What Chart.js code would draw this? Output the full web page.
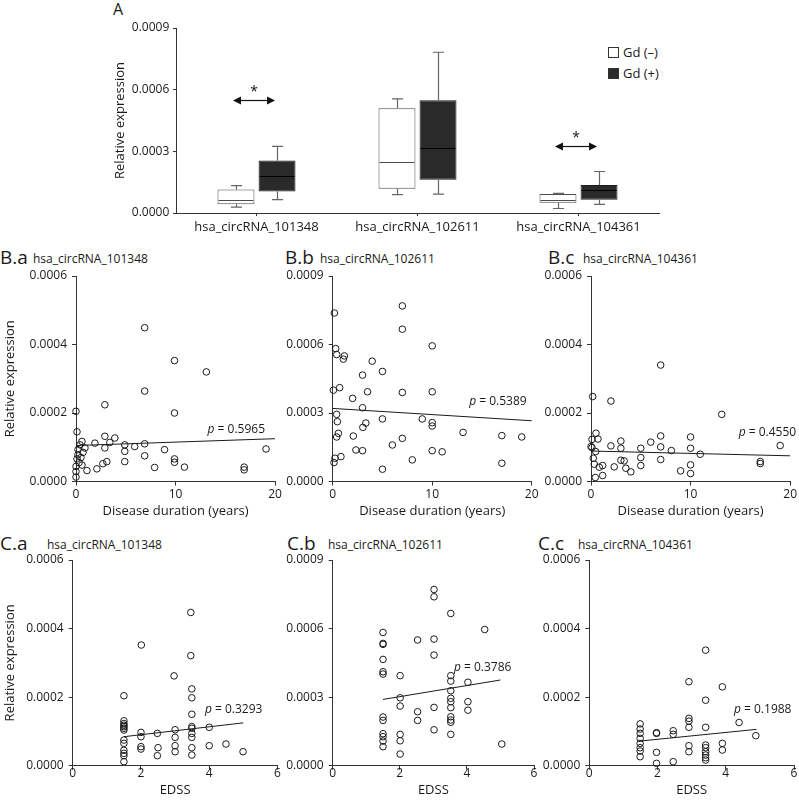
<!DOCTYPE html>
<html>
<head>
<meta charset="utf-8">
<script src="https://cdn.jsdelivr.net/npm/chart.js@4.4.1/dist/chart.umd.min.js"></script>
<style>
  body { margin: 0; background: #fff; }
  #fig { position: relative; width: 799px; height: 800px; overflow: hidden; font-family: 'Open Sans', sans-serif; color: #1a1a1a; }
  #fig canvas { position: absolute; }
  .lbl { position: absolute; white-space: nowrap; line-height: 20px; }
  .big { font-size: 19px; }
  .small { font-size: 12px; }
  .key { position: absolute; width: 9px; height: 9px; border: 1px solid #333; }
</style>
</head>
<body>
<div id="fig">
  <div class="lbl" style="left:113px;top:-1px;font-size:16px;">A</div>
  <div class="key" style="left:608px;top:47px;background:#fff;"></div>
  <div class="lbl" style="left:623px;top:42px;font-size:13px;">Gd (–)</div>
  <div class="key" style="left:608px;top:68px;background:#2a2a2a;"></div>
  <div class="lbl" style="left:623px;top:63px;font-size:13px;">Gd (+)</div>

  <div class="lbl big" style="left:0px;top:247px;">B.a</div>
  <div class="lbl small" style="left:33px;top:249px;">hsa_circRNA_101348</div>
  <div class="lbl big" style="left:285px;top:247px;">B.b</div>
  <div class="lbl small" style="left:320px;top:249px;">hsa_circRNA_102611</div>
  <div class="lbl big" style="left:548px;top:247px;">B.c</div>
  <div class="lbl small" style="left:583px;top:249px;">hsa_circRNA_104361</div>

  <div class="lbl big" style="left:0px;top:533px;">C.a</div>
  <div class="lbl small" style="left:47px;top:535px;">hsa_circRNA_101348</div>
  <div class="lbl big" style="left:287px;top:533px;">C.b</div>
  <div class="lbl small" style="left:328px;top:535px;">hsa_circRNA_102611</div>
  <div class="lbl big" style="left:538px;top:533px;">C.c</div>
  <div class="lbl small" style="left:578px;top:535px;">hsa_circRNA_104361</div>
</div>
<script>
'use strict';

// ---- panel A: box plot values ----
const genes = ['hsa_circRNA_101348', 'hsa_circRNA_102611', 'hsa_circRNA_104361'];
const negMin = [0.000029, 0.000089, 0.000022];
const negQ1  = [0.000042, 0.000118, 0.000050];
const negMed = [0.000062, 0.000250, 0.000065];
const negQ3  = [0.000114, 0.000509, 0.000092];
const negMax = [0.000133, 0.000555, 0.000095];
const posMin = [0.000065, 0.000092, 0.000042];
const posQ1  = [0.000104, 0.000162, 0.000065];
const posMed = [0.000178, 0.000316, 0.000113];
const posQ3  = [0.000256, 0.000548, 0.000136];
const posMax = [0.000324, 0.000782, 0.000202];
const sigIdx = [0, 2];
const sigLevel = [0.00055, 0.000327];

// ---- panel B: disease duration vs expression ----
const ba_x = [0, 0.1, 0.6, 0.4, 0.2, 0.7, 0.2, 0.1, 0.3, 0.5, 0.6, 0, 0, 0, 0.9, 1.1, 1.9, 2.1, 2.7, 2.9, 2.9, 2.9, 3.1, 3.4, 3.9, 4.9, 4.9, 4.9, 5.9, 6.9, 6.9, 6.9, 6.9, 7.9, 8.9, 9.9, 9.9, 9.9, 9.9, 10.9, 13.1, 16.9, 16.9, 19.1];
const ba_y = [0.000205, 0.000145, 0.000117, 0.000107, 0.000093, 0.000085, 0.000078, 0.000066, 0.000055, 0.00007, 0.000048, 0.000044, 0.000029, 0.000013, 0.000098, 0.000032, 0.000112, 0.000037, 0.000052, 0.000132, 0.000098, 0.000224, 0.000058, 0.000114, 0.000127, 0.000107, 0.000088, 0.000058, 0.000102, 0.00011, 0.000075, 0.000264, 0.000449, 0.000041, 0.000093, 0.000353, 0.0002, 0.000066, 0.000056, 0.000042, 0.00032, 0.000042, 0.000034, 0.000095];
const bb_x = [0.17, 7, 7, 10, 0.3, 0.4, 1.17, 1.07, 3.97, 5, 3, 0.07, 0.7, 3.5, 7, 10, 2, 3, 0.4, 0.47, 3.33, 3.03, 5, 9, 10, 10, 0.57, 0.4, 2.07, 7, 13.1, 17, 19, 6, 2.33, 3, 10, 11, 0.83, 0.23, 0.13, 8, 17, 5];
const bb_y = [0.000738, 0.000769, 0.000667, 0.000594, 0.000582, 0.000556, 0.00055, 0.000536, 0.000527, 0.000482, 0.000466, 0.0004, 0.000411, 0.000393, 0.00039, 0.000393, 0.000364, 0.000323, 0.000294, 0.000262, 0.000256, 0.000237, 0.000274, 0.000274, 0.000258, 0.000243, 0.000211, 0.000195, 0.000199, 0.000189, 0.000215, 0.000201, 0.000195, 0.00016, 0.000138, 0.000135, 0.000135, 0.00013, 0.000109, 0.000102, 0.000083, 0.0000947, 0.00008, 0.0000539];
const bc_x = [7, 0.17, 2, 13.13, 0.5, 7, 10, 0.7, 3, 6, 0.1, 2, 0, 7, 3, 5, 10, 19, 0.47, 8.07, 10.97, 0.23, 5, 3, 3.33, 7, 17, 17, 0.33, 1.17, 0.83, 2.33, 5, 10, 3.5, 4, 9, 10, 1.17, 0.43, 0.1];
const bc_y = [0.00034, 0.000248, 0.000235, 0.000196, 0.000141, 0.000133, 0.00013, 0.000124, 0.000118, 0.000115, 0.000123, 0.000104, 0.000102, 0.000101, 0.0000971, 0.0000971, 0.0000971, 0.000105, 0.0000874, 0.0000903, 0.0000796, 0.000068, 0.0000699, 0.0000621, 0.0000602, 0.0000641, 0.0000583, 0.0000524, 0.0000505, 0.0000466, 0.0000418, 0.0000427, 0.0000466, 0.0000486, 0.0000388, 0.0000282, 0.0000311, 0.0000233, 0.0000175, 0.0000117, 0.000099];

// ---- panel C: EDSS vs expression ----
const ca_x = [3.46, 2.01, 3.46, 2.97, 3.49, 3.49, 1.5, 3.49, 1.5, 1.5, 1.5, 1.5, 1.5, 1.5, 1.5, 1.5, 1.5, 2, 2, 2, 2, 2.48, 2.5, 2.48, 3, 3, 3, 3, 3.49, 3.49, 3.49, 3.49, 3.49, 3.49, 4, 4, 4.49, 4.99, 1.5, 1.5, 1.5];
const ca_y = [0.000447, 0.000352, 0.000321, 0.000262, 0.000224, 0.000198, 0.000204, 0.00015, 0.000131, 0.000123, 0.000114, 0.000104, 0.0000748, 0.0000651, 0.000036, 0.0000292, 0.0000117, 0.0000972, 0.0000846, 0.0000554, 0.0000486, 0.0000943, 0.0000525, 0.0000292, 0.000105, 0.0000826, 0.0000583, 0.0000408, 0.000114, 0.000109, 0.0000943, 0.0000826, 0.0000525, 0.0000311, 0.000112, 0.0000583, 0.0000632, 0.0000408, 0.000118, 0.000109, 0.000045];
const cb_x = [3.02, 3.02, 3.52, 4.53, 1.5, 1.5, 1.5, 2.53, 3.02, 3.02, 1.5, 1.5, 1.5, 2.01, 3.52, 3.52, 4.03, 3.52, 2.01, 3.52, 3.52, 4.03, 2.01, 3.02, 3.52, 4.03, 2.53, 1.5, 1.5, 2.53, 3.52, 3.52, 3.52, 3.02, 1.5, 1.5, 2.01, 3.52, 1.5, 2.01, 1.5, 2.01, 5.04];
const cb_y = [0.000771, 0.000739, 0.000666, 0.000596, 0.000583, 0.000535, 0.000531, 0.00055, 0.000554, 0.000484, 0.000465, 0.000411, 0.000401, 0.000394, 0.000394, 0.00037, 0.000365, 0.000328, 0.000297, 0.000295, 0.00028, 0.00028, 0.000261, 0.000255, 0.000254, 0.000243, 0.000236, 0.000213, 0.000198, 0.000198, 0.000214, 0.0002, 0.00019, 0.000157, 0.00014, 0.000127, 0.000137, 0.000137, 0.000108, 0.000109, 0.0000831, 0.000051, 0.0000948];
const cc_x = [3.41, 2.92, 3.9, 3.41, 4.39, 2.92, 2.92, 2.92, 3.41, 1.49, 1.49, 1.49, 1.49, 1.49, 1.49, 1.49, 1.97, 1.97, 1.97, 2.46, 2.46, 2.46, 2.92, 2.92, 3.41, 3.41, 3.41, 3.41, 3.41, 3.41, 3.9, 3.9, 4.88, 1.49, 1.97];
const cc_y = [0.000337, 0.000245, 0.00023, 0.000191, 0.000126, 0.000138, 0.00013, 0.000112, 0.000112, 0.000122, 0.000107, 0.0000943, 0.0000797, 0.0000651, 0.0000428, 0.0000262, 0.0000943, 0.0000389, 0.0000068, 0.000102, 0.0000914, 0.0000117, 0.0000583, 0.0000408, 0.0000603, 0.0000525, 0.0000408, 0.0000311, 0.0000233, 0.0000165, 0.0000651, 0.0000457, 0.0000875, 0.0000525, 0.0000963];

// regression lines (end points) and p values
const ba_fitX = [0, 20],    ba_fitY = [0.000105, 0.000125];
const bb_fitX = [0, 20],    bb_fitY = [0.00032, 0.000266];
const bc_fitX = [0, 20],    bc_fitY = [0.000089, 0.000075];
const ca_fitX = [1.5, 5],   ca_fitY = [0.0000846, 0.000125];
const cb_fitX = [1.5, 5],   cb_fitY = [0.00029, 0.000375];
const cc_fitX = [1.5, 4.9], cc_fitY = [0.000072, 0.000106];
const pValues = ['0.5965', '0.5389', '0.4550', '0.3293', '0.3786', '0.1988'];

Chart.defaults.font.family = "'Open Sans', sans-serif";
Chart.defaults.font.size = 12;
Chart.defaults.color = '#1a1a1a';

const fig = document.getElementById('fig');
const AXIS = '#333';

function addCanvas(x, y, w, h) {
  const c = document.createElement('canvas');
  c.width = w;
  c.height = h;
  c.style.left = x + 'px';
  c.style.top = y + 'px';
  fig.appendChild(c);
  return c;
}

// whiskers, medians and the significance arrows for the box plot
const boxPlugin = {
  id: 'boxes',
  afterDatasetsDraw(chart) {
    const ctx = chart.ctx;
    const y = chart.scales.y;
    const series = [
      [negMin, negQ1, negMed, negQ3, negMax, '#4d4d4d'],
      [posMin, posQ1, posMed, posQ3, posMax, '#000']
    ];
    ctx.save();
    series.forEach((s, d) => {
      chart.getDatasetMeta(d).data.forEach((bar, i) => {
        const x = Math.round(bar.x) + 0.5, hw = bar.width / 2, cap = 5.5;
        const pMin = y.getPixelForValue(s[0][i]), pQ1 = y.getPixelForValue(s[1][i]);
        const pMed = Math.round(y.getPixelForValue(s[2][i])) + 0.5;
        const pQ3 = y.getPixelForValue(s[3][i]), pMax = y.getPixelForValue(s[4][i]);
        ctx.strokeStyle = '#666';
        ctx.lineWidth = 1.2;
        ctx.beginPath();
        ctx.moveTo(x, pQ3); ctx.lineTo(x, pMax);
        ctx.moveTo(x - cap, pMax); ctx.lineTo(x + cap, pMax);
        ctx.moveTo(x, pQ1); ctx.lineTo(x, pMin);
        ctx.moveTo(x - cap, pMin); ctx.lineTo(x + cap, pMin);
        ctx.stroke();
        ctx.strokeStyle = s[5];
        ctx.lineWidth = 1;
        ctx.beginPath();
        ctx.moveTo(bar.x - hw + 1, pMed); ctx.lineTo(bar.x + hw - 1, pMed);
        ctx.stroke();
      });
    });
    ctx.restore();

    ctx.save();
    ctx.fillStyle = '#111';
    ctx.strokeStyle = '#111';
    ctx.lineWidth = 1.2;
    sigIdx.forEach((i, k) => {
      const xa = chart.getDatasetMeta(0).data[i].x - 3;
      const xb = chart.getDatasetMeta(1).data[i].x - 2;
      const ya = Math.round(y.getPixelForValue(sigLevel[k])) + 0.5;
      ctx.beginPath();
      ctx.moveTo(xa + 6, ya); ctx.lineTo(xb - 6, ya);
      ctx.stroke();
      ctx.beginPath();
      ctx.moveTo(xa, ya); ctx.lineTo(xa + 8, ya - 4); ctx.lineTo(xa + 8, ya + 4); ctx.closePath();
      ctx.moveTo(xb, ya); ctx.lineTo(xb - 8, ya - 4); ctx.lineTo(xb - 8, ya + 4); ctx.closePath();
      ctx.fill();
      ctx.font = "14px 'Open Sans'";
      ctx.textAlign = 'center';
      ctx.textBaseline = 'middle';
      ctx.fillText('*', (xa + xb) / 2, ya - 8);
    });
    ctx.restore();
  }
};

new Chart(addCanvas(0, 0, 799, 250), {
  type: 'bar',
  data: {
    labels: genes,
    datasets: [
      { label: 'Gd (–)', data: genes.map((g, i) => [negQ1[i], negQ3[i]]), backgroundColor: '#ffffff', borderColor: '#4d4d4d', borderWidth: 1, borderSkipped: false, categoryPercentage: 0.51, barPercentage: 0.9 },
      { label: 'Gd (+)', data: genes.map((g, i) => [posQ1[i], posQ3[i]]), backgroundColor: '#2a2a2a', borderColor: '#1a1a1a', borderWidth: 1, borderSkipped: false, categoryPercentage: 0.51, barPercentage: 0.9 }
    ]
  },
  options: {
    responsive: false,
    animation: false,
    events: [],
    layout: { padding: { left: 108.2, right: 140, top: 28, bottom: 0 } },
    plugins: { legend: { display: false }, tooltip: { enabled: false } },
    scales: {
      x: {
        grid: { offset: false, drawOnChartArea: false, tickLength: 3, color: AXIS },
        border: { color: AXIS },
        ticks: { font: { size: 13 }, padding: 3.5, maxRotation: 0 },
        afterFit: s => { s.height = 37; }
      },
      y: {
        min: 0, max: 0.0009,
        ticks: { stepSize: 0.0003, padding: 3.7, callback: v => Number(v).toFixed(4) },
        grid: { drawOnChartArea: false, tickLength: 3, color: AXIS },
        border: { color: AXIS },
        title: { display: true, text: 'Relative expression', font: { size: 13 }, padding: { top: 4, bottom: 0 } },
        afterFit: s => { s.width = 67.8; }
      }
    }
  },
  plugins: [boxPlugin]
});

// p value text next to the regression line end
const pLabelPlugin = {
  id: 'pLabel',
  afterDatasetsDraw(chart, args, opts) {
    const pts = chart.getDatasetMeta(1).data;
    const end = pts[pts.length - 1];
    const ctx = chart.ctx;
    const rest = ' = ' + opts.value;
    ctx.save();
    ctx.font = "12px 'Open Sans'";
    const wRest = ctx.measureText(rest).width;
    ctx.font = "italic 12px 'Open Sans'";
    const wP = ctx.measureText('p').width;
    const right = end.x + opts.dx, cy = end.y + opts.dy;
    ctx.fillStyle = '#1a1a1a';
    ctx.textBaseline = 'middle';
    ctx.textAlign = 'left';
    ctx.fillText('p', right - wRest - wP, cy);
    ctx.font = "12px 'Open Sans'";
    ctx.fillText(rest, right - wRest, cy);
    ctx.restore();
  }
};

function scatterPanel(p) {
  const yW = p.plot.l - p.box.x;
  const xH = p.box.y + p.box.h - p.plot.b;
  new Chart(addCanvas(p.box.x, p.box.y, p.box.w, p.box.h), {
    type: 'scatter',
    data: {
      datasets: [
        {
          data: p.xs.map((x, i) => ({ x: x, y: p.ys[i] })),
          pointRadius: 3.3, borderWidth: 1, borderColor: '#1a1a1a', backgroundColor: 'rgba(0,0,0,0)', clip: false
        },
        {
          type: 'line',
          data: p.fx.map((x, i) => ({ x: x, y: p.fy[i] })),
          borderColor: '#1a1a1a', borderWidth: 1, pointRadius: 0, fill: false, clip: false
        }
      ]
    },
    options: {
      responsive: false,
      animation: false,
      events: [],
      layout: { padding: { left: 0, top: p.plot.t - p.box.y, right: p.box.x + p.box.w - p.plot.r, bottom: 0 } },
      plugins: { legend: { display: false }, tooltip: { enabled: false }, pLabel: { value: p.pv, dx: p.dx, dy: p.dy } },
      scales: {
        x: {
          type: 'linear', min: 0, max: p.xMax,
          ticks: { stepSize: p.xStep, padding: p.xTickPad, maxRotation: 0 },
          grid: { drawOnChartArea: false, tickLength: 4, color: AXIS },
          border: { color: AXIS },
          title: { display: true, text: p.xTitle, font: { size: 13 }, padding: { top: 0, bottom: p.xTitlePad } },
          afterFit: s => { s.height = xH; }
        },
        y: {
          min: 0, max: p.yMax,
          ticks: { stepSize: p.yMax / 3, padding: 5, callback: v => Number(v).toFixed(4) },
          grid: { drawOnChartArea: false, tickLength: 4, color: AXIS },
          border: { color: AXIS },
          title: { display: p.yTitle, text: 'Relative expression', font: { size: 13 }, padding: { top: 2.2, bottom: 0 } },
          afterFit: s => { s.width = yW; }
        }
      }
    },
    plugins: [pLabelPlugin]
  });
}

const durTitle = 'Disease duration (years)';
const rowB = { xMax: 20, xStep: 10, xTitle: durTitle, xTickPad: 2, xTitlePad: 5.7 };
const rowC = { xMax: 6, xStep: 2, xTitle: 'EDSS', xTickPad: -3, xTitlePad: 2.2 };

scatterPanel(Object.assign({}, rowB, { box: { x: 0, y: 255, w: 295, h: 270 }, plot: { l: 76, t: 276, r: 275, b: 481.5 }, xs: ba_x, ys: ba_y, fx: ba_fitX, fy: ba_fitY, yMax: 0.0006, yTitle: true, pv: pValues[0], dx: -10, dy: -9 }));
scatterPanel(Object.assign({}, rowB, { box: { x: 262, y: 255, w: 283, h: 270 }, plot: { l: 332.7, t: 276, r: 531.7, b: 481.5 }, xs: bb_x, ys: bb_y, fx: bb_fitX, fy: bb_fitY, yMax: 0.0009, yTitle: false, pv: pValues[1], dx: -5, dy: -19 }));
scatterPanel(Object.assign({}, rowB, { box: { x: 521, y: 255, w: 278, h: 270 }, plot: { l: 591, t: 276, r: 790.3, b: 481.5 }, xs: bc_x, ys: bc_y, fx: bc_fitX, fy: bc_fitY, yMax: 0.0006, yTitle: false, pv: pValues[2], dx: 6, dy: -23 }));
scatterPanel(Object.assign({}, rowC, { box: { x: 0, y: 530, w: 295, h: 270 }, plot: { l: 72.7, t: 560, r: 277.5, b: 765.7 }, xs: ca_x, ys: ca_y, fx: ca_fitX, fy: ca_fitY, yMax: 0.0006, yTitle: true, pv: pValues[3], dx: 19, dy: -13.5 }));
scatterPanel(Object.assign({}, rowC, { box: { x: 262, y: 530, w: 284, h: 270 }, plot: { l: 332.7, t: 560, r: 534, b: 765.7 }, xs: cb_x, ys: cb_y, fx: cb_fitX, fy: cb_fitY, yMax: 0.0009, yTitle: false, pv: pValues[4], dx: 11, dy: -12 }));
scatterPanel(Object.assign({}, rowC, { box: { x: 519, y: 530, w: 280, h: 270 }, plot: { l: 589.3, t: 560, r: 794, b: 765.7 }, xs: cc_x, ys: cc_y, fx: cc_fitX, fy: cc_fitY, yMax: 0.0006, yTitle: false, pv: pValues[5], dx: 35, dy: -20 }));
</script>
</body>
</html>
